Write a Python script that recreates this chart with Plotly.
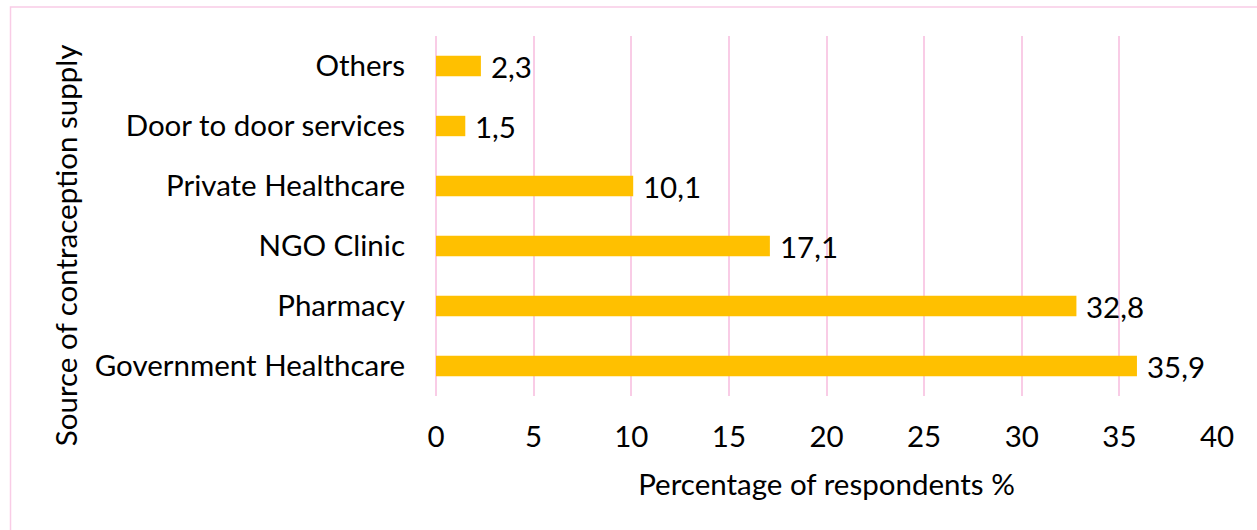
import plotly.graph_objects as go

# Sources of contraception supply and share of respondents (%)
sources = ["Government Healthcare", "Pharmacy", "NGO Clinic",
           "Private Healthcare", "Door to door services", "Others"]
percentages = [35.9, 32.8, 17.1, 10.1, 1.5, 2.3]
x_ticks = [0, 5, 10, 15, 20, 25, 30, 35, 40]

FONT = "Lato"
FSIZE = 29.5
BAR_COLOR = "#FFC000"
GRID_COLOR = "#F9CCE6"

fig = go.Figure()
fig.add_trace(go.Bar(
    y=sources,
    x=percentages,
    orientation="h",
    marker=dict(color=BAR_COLOR, line=dict(width=0)),
    width=0.34,
    hoverinfo="x+y",
))

# Value labels to the right of each bar
for src, val in zip(sources, percentages):
    fig.add_annotation(
        x=val, y=src, xref="x", yref="y",
        text=f"{val:.1f}".replace(".", ","),
        showarrow=False, xanchor="left", yanchor="middle",
        xshift=8,
        font=dict(family=FONT, size=FSIZE, color="#000000"),
    )

# Vertical axis title
fig.add_annotation(
    x=-0.475, y=0.419, xref="paper", yref="paper",
    text="Source of contraception supply",
    textangle=-90, showarrow=False,
    xanchor="center", yanchor="middle",
    font=dict(family=FONT, size=FSIZE, color="#000000"),
)

# Outer chart frame
fig.add_shape(
    type="rect", xref="paper", yref="paper",
    x0=-0.5448, x1=1.06, y0=-0.40, y1=1.0806,
    line=dict(color=GRID_COLOR, width=1.5),
    fillcolor="rgba(0,0,0,0)", layer="below",
)

fig.update_layout(
    width=1257, height=530,
    margin=dict(l=436, r=40, t=36, b=134),
    paper_bgcolor="white",
    plot_bgcolor="white",
    showlegend=False,
    separators=", ",
    font=dict(family=FONT, size=FSIZE, color="#000000"),
    xaxis=dict(
        range=[0, 40],
        tickvals=x_ticks,
        ticktext=[str(t) for t in x_ticks],
        showgrid=True, gridcolor=GRID_COLOR, gridwidth=1.5,
        zeroline=True, zerolinecolor=GRID_COLOR, zerolinewidth=1.5,
        showline=False, ticks="",
        ticklabelstandoff=20,
        tickfont=dict(family=FONT, size=FSIZE),
        title=dict(text="Percentage of respondents %", standoff=22,
                   font=dict(family=FONT, size=FSIZE)),
        fixedrange=True,
    ),
    yaxis=dict(
        categoryorder="array", categoryarray=sources,
        showgrid=False, zeroline=False, showline=False, ticks="",
        ticklabelstandoff=30,
        tickfont=dict(family=FONT, size=FSIZE),
        fixedrange=True,
    ),
)

fig.write_html("out.html")
